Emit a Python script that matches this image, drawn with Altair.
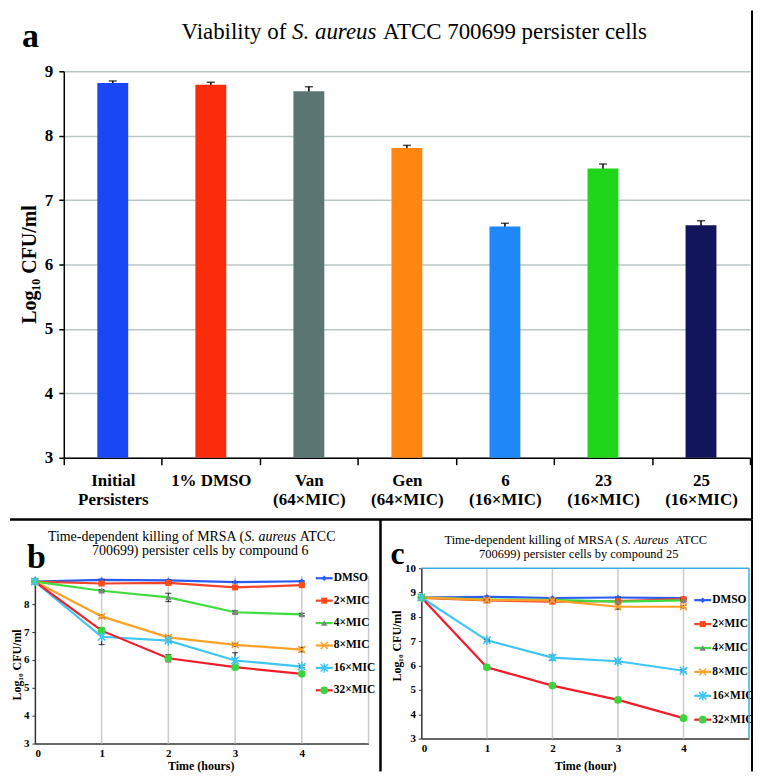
import altair as alt
import pandas as pd

SERIF = "Liberation Serif"

# ---------------- panel a data ----------------
categories = ["Initial\nPersisters", "1% DMSO", "Van\n(64×MIC)", "Gen\n(64×MIC)",
              "6\n(16×MIC)", "23\n(16×MIC)", "25\n(16×MIC)"]
bar_values = [8.82, 8.79, 8.69, 7.81, 6.59, 7.49, 6.61]
bar_errors = [0.03, 0.04, 0.07, 0.04, 0.05, 0.07, 0.07]
bar_colors = ["#1a47f5", "#fa2c0c", "#5b7672", "#ff8610", "#1f87f7", "#1fd61a", "#12145c"]
a_yticks = [3, 4, 5, 6, 7, 8, 9]

# ---------------- panels b / c data ----------------
times = [0, 1, 2, 3, 4]
series = ["DMSO", "2×MIC", "4×MIC", "8×MIC", "16×MIC", "32×MIC"]

b_values = {
    "DMSO":   [8.81, 8.87, 8.85, 8.79, 8.82],
    "2×MIC":  [8.81, 8.74, 8.76, 8.60, 8.68],
    "4×MIC":  [8.81, 8.48, 8.24, 7.71, 7.63],
    "8×MIC":  [8.81, 7.56, 6.81, 6.54, 6.37],
    "16×MIC": [8.81, 6.83, 6.69, 5.98, 5.76],
    "32×MIC": [8.81, 7.05, 6.06, 5.74, 5.50],
}
b_errors = {
    "DMSO":   [0.0, 0.02, 0.02, 0.02, 0.02],
    "2×MIC":  [0.0, 0.04, 0.03, 0.04, 0.04],
    "4×MIC":  [0.0, 0.04, 0.15, 0.05, 0.04],
    "8×MIC":  [0.0, 0.05, 0.05, 0.05, 0.08],
    "16×MIC": [0.0, 0.28, 0.06, 0.28, 0.04],
    "32×MIC": [0.0, 0.10, 0.13, 0.05, 0.05],
}
c_values = {
    "DMSO":   [8.80, 8.83, 8.78, 8.80, 8.77],
    "2×MIC":  [8.78, 8.68, 8.63, 8.65, 8.73],
    "4×MIC":  [8.80, 8.72, 8.70, 8.63, 8.68],
    "8×MIC":  [8.80, 8.70, 8.68, 8.42, 8.42],
    "16×MIC": [8.80, 7.04, 6.33, 6.18, 5.79],
    "32×MIC": [8.80, 5.93, 5.18, 4.59, 3.84],
}
c_errors = {
    "DMSO":   [0.0, 0.02, 0.02, 0.02, 0.02],
    "2×MIC":  [0.0, 0.03, 0.03, 0.04, 0.03],
    "4×MIC":  [0.0, 0.03, 0.03, 0.05, 0.04],
    "8×MIC":  [0.0, 0.03, 0.04, 0.10, 0.05],
    "16×MIC": [0.0, 0.04, 0.10, 0.07, 0.05],
    "32×MIC": [0.0, 0.08, 0.08, 0.03, 0.03],
}
line_colors = ["#2a5cf2", "#f2452a", "#3edc3e", "#ffa127", "#3fc6f4", "#f21d2b"]
marker_colors = ["#2a5cf2", "#ff4a17", "#7f8282", "#ffa127", "#3fc6f4", "#3fd23f"]
X_PATH = "M-1,-1L1,1M-1,1L1,-1"
STAR_PATH = "M-1,-1L1,1M-1,1L1,-1M0,-1.3L0,1.3"
marker_shapes = ["diamond", "square", "triangle-up", X_PATH, STAR_PATH, "circle"]
marker_sizes = [30, 60, 50, 40, 45, 70]
filled_series = ["DMSO", "2×MIC", "4×MIC", "32×MIC"]
stroked_series = ["8×MIC", "16×MIC"]

one = pd.DataFrame({"k": [0]})


def txt(text, x, y, size, weight="normal", style="normal", align="left",
        baseline="alphabetic", angle=0):
    return alt.Chart(one).mark_text(
        text=text, font=SERIF, fontSize=size, fontWeight=weight, fontStyle=style,
        align=align, baseline=baseline, angle=angle, color="black"
    ).encode(x=alt.value(x), y=alt.value(y))


def rule(x, x2, y, y2, color="black", width=2.5):
    return alt.Chart(one).mark_rule(color=color, strokeWidth=width).encode(
        x=alt.value(x), x2=alt.value(x2), y=alt.value(y), y2=alt.value(y2))


# ---------------- panel a ----------------
A_W, A_H = 689, 388
a_df = pd.DataFrame({"cat": categories, "value": bar_values, "err": bar_errors})
a_df["lo"] = a_df["value"] - a_df["err"]
a_df["hi"] = a_df["value"] + a_df["err"]

a_xaxis = alt.Axis(title=None, labelAngle=0, labelExpr="split(datum.label, '\\n')",
                   labelFont=SERIF, labelFontSize=17, labelFontWeight="bold",
                   labelColor="black", labelLineHeight=19, labelPadding=8,
                   labelBaseline="top", tickBand="extent", tickSize=7,
                   tickColor="black", tickWidth=1.5, domainColor="black",
                   domainWidth=1.5, grid=False)
a_yaxis = alt.Axis(values=a_yticks, title=None, grid=True, gridColor="#b9c6c6",
                   gridWidth=1.5, labelFont=SERIF, labelFontSize=17,
                   labelFontWeight="bold", labelColor="black", labelPadding=6,
                   tickSize=5, tickColor="black", tickWidth=1.5,
                   domainColor="black", domainWidth=1.5)
a_xscale = alt.Scale(domain=categories, paddingInner=0, paddingOuter=0)
a_yscale = alt.Scale(domain=[3, 9], nice=False, zero=False)


def AX():
    return alt.X("cat:N", sort=categories, scale=a_xscale, axis=a_xaxis)


def AY(field):
    return alt.Y(field, scale=a_yscale, axis=a_yaxis)


a_base = alt.Chart(a_df)
a_err = a_base.mark_rule(color="black", strokeWidth=1.5).encode(
    x=AX(), y=AY("lo:Q"), y2="hi:Q")
a_cap = a_base.mark_tick(color="black", size=8, thickness=1.5).encode(
    x=AX(), y=AY("hi:Q"))
a_bars = a_base.mark_bar(width=31).encode(
    x=AX(), y=AY("value:Q"), y2=alt.datum(3),
    color=alt.Color("cat:N", scale=alt.Scale(domain=categories, range=bar_colors), legend=None))

a_anchor = alt.Chart(one).mark_rect(opacity=0).encode(
    x=alt.value(-54), x2=alt.value(-52), y=alt.value(-61), y2=alt.value(-59))

panel_a = alt.layer(
    a_anchor, a_err, a_bars, a_cap,
    txt("a", -42, -24, 34, weight="bold"),
    txt("Viability of", 223.4, -32, 23, align="right"),
    txt("S. aureus", 229.2, -32, 23, style="italic"),
    txt("ATCC 700699 persister cells", 320.5, -32, 23),
    txt("Log₁₀ CFU/ml", -34, 194, 20, weight="bold", align="center",
        baseline="middle", angle=270),
    rule(-54, 691, 450, 450),
    rule(691, 691, -61, 450, width=2),
).properties(width=A_W, height=A_H)


# ---------------- panels b / c ----------------
def long_df(values, errors):
    rows = []
    for s in series:
        for t, v, e in zip(times, values[s], errors[s]):
            rows.append({"series": s, "time": t, "value": v, "lo": v - e, "hi": v + e})
    return pd.DataFrame(rows)


stroke_scale = alt.Scale(domain=series, range=line_colors)
fill_scale = alt.Scale(domain=series, range=marker_colors)
shape_scale = alt.Scale(domain=series, range=marker_shapes)
size_scale = alt.Scale(domain=series, range=marker_sizes)


def time_panel(values, errors, W, H, xrange, yrange, ydomain, yticks, yoffset,
               grid_times, legend_x, legend_rows, extras):
    df = long_df(values, errors)
    xscale = alt.Scale(domain=[0, 5], range=xrange, nice=False, zero=False)
    yscale = alt.Scale(domain=ydomain, range=yrange, nice=False, zero=False)
    xaxis = alt.Axis(values=times, title=None, grid=False, labelFont=SERIF,
                     labelFontSize=11, labelFontWeight="bold", labelColor="black",
                     ticks=False, labelPadding=4, domainColor="#333333",
                     domainWidth=1.5)
    yaxis = alt.Axis(values=yticks, title=None, grid=False, offset=yoffset,
                     labelFont=SERIF, labelFontSize=11, labelFontWeight="bold",
                     labelColor="black", tickSize=3, tickColor="#333333",
                     labelPadding=3, domainColor="#333333", domainWidth=1.5)

    def X(f="time:Q"):
        return alt.X(f, scale=xscale, axis=xaxis)

    def Y(f):
        return alt.Y(f, scale=yscale, axis=yaxis)

    grid_df = pd.DataFrame({"time": grid_times, "y0": [ydomain[0]] * len(grid_times),
                            "y1": [ydomain[1]] * len(grid_times)})
    grid = alt.Chart(grid_df).mark_rule(color="#c8cccc", strokeWidth=1.5).encode(
        x=X(), y=Y("y0:Q"), y2="y1:Q")
    base = alt.Chart(df)
    lines = base.mark_line(strokeWidth=2.2).encode(
        x=X(), y=Y("value:Q"),
        stroke=alt.Stroke("series:N", scale=stroke_scale, legend=None),
        order="time:Q")
    eb = base.mark_rule(color="#111111", strokeWidth=1).encode(x=X(), y=Y("lo:Q"), y2="hi:Q")
    eb_lo = base.mark_tick(color="#111111", orient="horizontal", size=6, thickness=1.2).encode(
        x=X(), y=Y("lo:Q"))
    eb_hi = base.mark_tick(color="#111111", orient="horizontal", size=6, thickness=1.2).encode(
        x=X(), y=Y("hi:Q"))
    pf = base.mark_point(filled=True, opacity=1, strokeWidth=0).encode(
        x=X(), y=Y("value:Q"),
        fill=alt.Fill("series:N", scale=fill_scale, legend=None),
        shape=alt.Shape("series:N", scale=shape_scale, legend=None),
        size=alt.Size("series:N", scale=size_scale, legend=None),
    ).transform_filter(alt.FieldOneOfPredicate(field="series", oneOf=filled_series))
    ps = base.mark_point(filled=False, opacity=1, strokeWidth=1.5).encode(
        x=X(), y=Y("value:Q"),
        stroke=alt.Stroke("series:N", scale=stroke_scale, legend=None),
        shape=alt.Shape("series:N", scale=shape_scale, legend=None),
        size=alt.Size("series:N", scale=size_scale, legend=None),
    ).transform_filter(alt.FieldOneOfPredicate(field="series", oneOf=stroked_series))
    main = alt.layer(grid, lines, eb, eb_lo, eb_hi, pf, ps)

    leg_df = pd.DataFrame({"series": series})
    LY = alt.Y("series:N", sort=series,
               scale=alt.Scale(type="point", domain=series, range=legend_rows, padding=0),
               axis=None)
    lb = alt.Chart(leg_df)
    l_rule = lb.mark_rule(strokeWidth=2.2).encode(
        x=alt.value(legend_x[0]), x2=alt.value(legend_x[1]), y=LY,
        stroke=alt.Stroke("series:N", scale=stroke_scale, legend=None))
    l_pf = lb.mark_point(filled=True, opacity=1, strokeWidth=0).encode(
        x=alt.value((legend_x[0] + legend_x[1]) / 2), y=LY,
        fill=alt.Fill("series:N", scale=fill_scale, legend=None),
        shape=alt.Shape("series:N", scale=shape_scale, legend=None),
        size=alt.Size("series:N", scale=size_scale, legend=None),
    ).transform_filter(alt.FieldOneOfPredicate(field="series", oneOf=filled_series))
    l_ps = lb.mark_point(filled=False, opacity=1, strokeWidth=1.5).encode(
        x=alt.value((legend_x[0] + legend_x[1]) / 2), y=LY,
        stroke=alt.Stroke("series:N", scale=stroke_scale, legend=None),
        shape=alt.Shape("series:N", scale=shape_scale, legend=None),
        size=alt.Size("series:N", scale=size_scale, legend=None),
    ).transform_filter(alt.FieldOneOfPredicate(field="series", oneOf=stroked_series))
    l_txt = lb.mark_text(align="left", baseline="middle", font=SERIF, fontSize=11.5,
                         fontWeight="bold", color="black").encode(
        x=alt.value(legend_x[1] + 1), y=LY, text="series:N")
    legend = alt.layer(l_rule, l_pf, l_ps, l_txt)

    return alt.layer(main, legend, *extras).resolve_scale(y="independent").properties(
        width=W, height=H)


B_W, B_H = 306, 176
panel_b = time_panel(
    b_values, b_errors, B_W, B_H, [-29, 306], [176, 8], [3, 9], [3, 4, 5, 6, 7, 8], 29,
    [1, 2, 3, 4, 5], [253, 270], [10, 122.5],
    [
        txt("Time-dependent killing of MRSA (", 181, -31, 14, align="right", baseline="middle"),
        txt("S. aureus", 181.5, -31, 14, style="italic", baseline="middle"),
        txt("ATCC", 237, -31, 14, baseline="middle"),
        txt("700699) persister cells by compound 6", 137, -17, 14, align="center",
            baseline="middle"),
        txt("b", -37, 0, 34, weight="bold"),
        txt("Log₁₀ CFU/ml", -47, 97, 12, weight="bold", align="center",
            baseline="middle", angle=270),
        txt("Time (hours)", 138, 199, 12, weight="bold", align="center", baseline="middle"),
        rule(318, 318, -49, 204),
    ])

C_W, C_H = 329, 171
panel_c = time_panel(
    c_values, c_errors, C_W, C_H, [0, 329], [171, 0], [3, 10], [3, 4, 5, 6, 7, 8, 9, 10], 0,
    [1, 2, 3, 4], [274, 291], [32, 152],
    [
        rule(0, C_W, 0, 0, color="#3ba9e6", width=1.5),
        rule(C_W, C_W, 0, C_H, color="#3ba9e6", width=1.5),
        txt("Time-dependent killing of MRSA (", 199, -28.5, 12.5, align="right", baseline="middle"),
        txt("S. Aureus", 201, -28.5, 12.5, style="italic", baseline="middle"),
        txt("ATCC", 255, -28.5, 12.5, baseline="middle"),
        txt("700699) persister cells by compound 25", 158, -14, 12.5, align="center",
            baseline="middle"),
        txt("c", -31, -4, 32, weight="bold"),
        txt("Log₁₀ CFU/ml", -24, 78, 12, weight="bold", align="center",
            baseline="middle", angle=270),
        txt("Time (hour)", 165, 199, 12, weight="bold", align="center", baseline="middle"),
        rule(332, 332, -49, 204, width=2),
    ])

bottom = alt.hconcat(panel_b, panel_c, spacing=53, bounds="flush")
chart = alt.vconcat(panel_a, bottom, spacing=111, bounds="flush").properties(
    padding=0, background="white"
).configure_view(stroke=None)

chart.save("out.html", embed_options={"renderer": "svg", "actions": False})
